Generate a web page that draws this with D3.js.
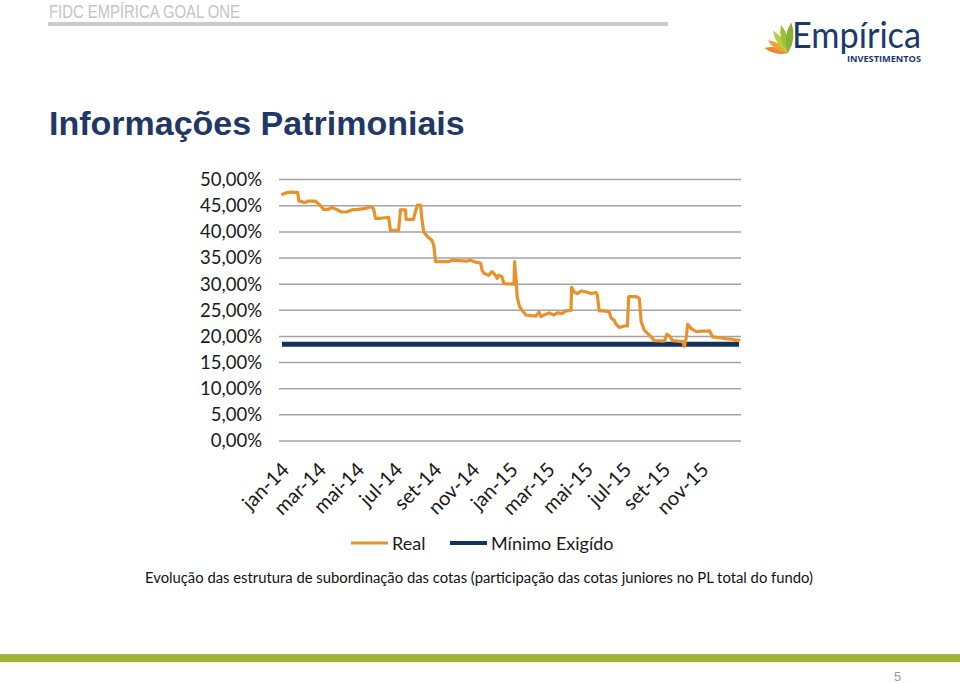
<!DOCTYPE html>
<html><head><meta charset="utf-8">
<script src="https://cdn.jsdelivr.net/npm/d3@7"></script>
<style>body{margin:0;background:#fff} svg{display:block}</style>
</head><body>
<svg id="c" width="960" height="684"></svg>
<script>
// ---- data ----
const realDates = ["2014-01-02","2014-01-08","2014-01-19","2014-01-26","2014-01-28","2014-02-07","2014-02-12","2014-02-23","2014-02-28","2014-03-05","2014-03-08","2014-03-16","2014-03-21","2014-03-29","2014-04-06","2014-04-14","2014-04-22","2014-05-03","2014-05-14","2014-05-22","2014-05-27","2014-05-30","2014-06-07","2014-06-20","2014-06-23","2014-07-06","2014-07-09","2014-07-17","2014-07-18","2014-07-30","2014-07-31","2014-08-05","2014-08-10","2014-08-12","2014-08-15","2014-08-21","2014-08-28","2014-08-31","2014-09-03","2014-09-24","2014-09-29","2014-10-23","2014-10-29","2014-11-03","2014-11-14","2014-11-16","2014-11-19","2014-11-27","2014-12-02","2014-12-08","2014-12-10","2014-12-13","2014-12-18","2014-12-21","2015-01-06","2015-01-07","2015-01-10","2015-01-11","2015-01-15","2015-01-19","2015-01-25","2015-02-10","2015-02-15","2015-02-18","2015-02-23","2015-03-03","2015-03-11","2015-03-16","2015-03-24","2015-03-30","2015-04-07","2015-04-08","2015-04-12","2015-04-17","2015-04-23","2015-05-01","2015-05-09","2015-05-17","2015-05-19","2015-05-22","2015-05-30","2015-06-07","2015-06-10","2015-06-15","2015-06-17","2015-06-23","2015-07-01","2015-07-06","2015-07-08","2015-07-20","2015-07-25","2015-07-28","2015-08-02","2015-08-07","2015-08-13","2015-08-18","2015-09-03","2015-09-07","2015-09-11","2015-09-16","2015-10-02","2015-10-05","2015-10-08","2015-10-10","2015-10-16","2015-10-24","2015-11-01","2015-11-11","2015-11-14","2015-11-19","2015-11-27","2015-12-08","2015-12-18","2015-12-26","2015-12-31"];
const realValues = [47.2,47.5,47.6,47.5,45.9,45.6,45.9,45.9,45.4,44.8,44.3,44.3,44.7,44.3,43.8,43.8,44.2,44.3,44.5,44.8,44.5,42.6,42.6,42.8,40.3,40.3,44.2,44.2,42.4,42.4,43.1,45.1,45.1,42.6,40.0,39.1,38.4,37.5,34.3,34.3,34.6,34.4,34.6,34.3,34.0,32.7,32.1,31.7,32.4,31.7,31.1,31.7,31.4,30.1,30.0,34.3,30.1,27.6,25.7,25.0,24.1,23.9,24.7,23.8,24.1,24.5,24.1,24.5,24.4,24.9,25.0,29.4,28.5,28.2,28.7,28.5,28.2,28.4,27.9,24.9,24.9,24.7,23.5,23.1,22.5,21.7,22.0,22.0,27.6,27.6,27.3,22.8,21.2,20.6,19.9,19.2,19.1,20.4,20.1,19.2,19.0,18.1,19.9,22.3,21.5,20.9,21.0,21.0,21.1,19.9,19.8,19.6,19.5,19.3,19.3];
const minDates = ["2014-01-01","2015-12-31"];
const minValues = [18.5, 18.5];
const yTicks = [0,5,10,15,20,25,30,35,40,45,50];
const xTickDates = ["2014-01-01","2014-03-01","2014-05-01","2014-07-01","2014-09-01","2014-11-01","2015-01-01","2015-03-01","2015-05-01","2015-07-01","2015-09-01","2015-11-01"];
const xTickLabels = ["jan-14","mar-14","mai-14","jul-14","set-14","nov-14","jan-15","mar-15","mai-15","jul-15","set-15","nov-15"];
const seriesNames = ["Real","Mínimo Exigído"];
const seriesColors = ["#E8922C","#14325E"];

// ---- drawing ----
const svg = d3.select("#c");
const parse = d3.timeParse("%Y-%m-%d");
const FONT = "Lato, 'Open Sans', sans-serif";

// header
svg.append("text").attr("x",49).attr("y",18).attr("font-family","'Liberation Sans Narrow','Liberation Sans',Arial,sans-serif")
  .attr("font-size",19).attr("fill","#c4c4c4").attr("textLength",191).attr("lengthAdjust","spacingAndGlyphs").text("FIDC EMPÍRICA GOAL ONE");
svg.append("rect").attr("x",48).attr("y",22).attr("width",620).attr("height",4).attr("fill","#cbcbcb");

// logo
const logo = svg.append("g");
const leaves = [
  {a:-168, c:"#E9892F", l:24, w:6},
  {a:-148, c:"#F0A33A", l:24, w:6},
  {a:-124, c:"#B9CF45", l:27, w:6.5},
  {a:-104, c:"#9DC03C", l:29, w:7},
  {a:-84, c:"#86B23A", l:31, w:7.5}
];
const ox=788, oy=53;
leaves.forEach(d=>{
  const L=d.l, W=d.w;
  logo.append("path")
    .attr("d",`M0,0 Q${L*0.5},${-W} ${L},0 Q${L*0.5},${W} 0,0Z`)
    .attr("transform",`translate(${ox},${oy}) rotate(${d.a})`)
    .attr("fill",d.c);
});
svg.append("text").attr("x",792).attr("y",48).attr("font-family","Lato, 'Open Sans', sans-serif")
  .attr("font-size",37).attr("fill","#1B3A6B").attr("textLength",129).attr("lengthAdjust","spacingAndGlyphs").text("Empírica");
svg.append("text").attr("x",847).attr("y",62).attr("font-family","'Open Sans', Lato, sans-serif").attr("font-weight","bold")
  .attr("font-size",9.5).attr("fill","#1B3A6B").attr("textLength",74).attr("lengthAdjust","spacingAndGlyphs").text("INVESTIMENTOS");

// title
svg.append("text").attr("x",49).attr("y",135).attr("font-family","'Liberation Sans',Arial,sans-serif").attr("font-weight","bold")
  .attr("font-size",34).attr("fill","#1F3864").text("Informações Patrimoniais");

// scales
const x = d3.scaleTime().domain([parse("2014-01-01"), parse("2015-12-31")]).range([282, 739]);
const y = d3.scaleLinear().domain([0, 50]).range([441, 179.6]);

// gridlines
svg.append("g").selectAll("line").data(yTicks).join("line")
  .attr("x1",279).attr("x2",741).attr("y1",d=>y(d)).attr("y2",d=>y(d))
  .attr("stroke","#a3a3a3").attr("stroke-width",1.5);

// y axis
const yAxis = svg.append("g").attr("transform","translate(279,0)")
  .call(d3.axisLeft(y).tickValues(yTicks).tickSize(0).tickPadding(17)
    .tickFormat(d => d3.format(".2f")(d).replace(".", ",") + "%"));
yAxis.select(".domain").remove();
yAxis.selectAll("text").attr("font-family",FONT).attr("font-size",18.5).attr("fill","#1a1a1a");

// x axis
const xAxis = svg.append("g").attr("transform","translate(0,441)")
  .call(d3.axisBottom(x).tickValues(xTickDates.map(parse)).tickSize(0)
    .tickFormat((d,i)=>xTickLabels[i]));
xAxis.select(".domain").remove();
xAxis.selectAll("text").attr("font-family",FONT).attr("font-size",20).attr("fill","#1a1a1a")
  .attr("y",null).attr("dy",null).attr("text-anchor","end")
  .attr("transform","translate(8,30) rotate(-45)");

// series
const line = d3.line().x(d=>x(d[0])).y(d=>y(d[1]));
svg.append("path").datum(minDates.map((d,i)=>[parse(d),minValues[i]]))
  .attr("d",line).attr("fill","none").attr("stroke",seriesColors[1]).attr("stroke-width",5);
svg.append("path").datum(realDates.map((d,i)=>[parse(d),realValues[i]]))
  .attr("d",line).attr("fill","none").attr("stroke",seriesColors[0]).attr("stroke-width",3.2)
  .attr("stroke-linejoin","round").attr("stroke-linecap","round");

// legend
const lg = svg.append("g");
const legX = [351, 450];
seriesNames.forEach((n,i)=>{
  lg.append("line").attr("x1",legX[i]).attr("x2",legX[i]+37).attr("y1",543).attr("y2",543)
    .attr("stroke",seriesColors[i]).attr("stroke-width",i?4:3);
  lg.append("text").attr("x",legX[i]+41).attr("y",550).attr("font-family",FONT).attr("font-size",18)
    .attr("fill","#1a1a1a").text(n);
});

// caption
svg.append("text").attr("x",145).attr("y",583).attr("font-family",FONT).attr("font-size",14.8)
  .attr("fill","#111").attr("textLength",668).attr("lengthAdjust","spacingAndGlyphs")
  .text("Evolução das estrutura de subordinação das cotas (participação das cotas juniores no PL total do fundo)");

// footer
svg.append("rect").attr("x",0).attr("y",654).attr("width",960).attr("height",8).attr("fill","#9EB533");
svg.append("text").attr("x",894).attr("y",681).attr("font-family","'Liberation Sans Narrow','Liberation Sans',sans-serif")
  .attr("font-size",13).attr("fill","#9a9a9a").text("5");
</script>
</body></html>
